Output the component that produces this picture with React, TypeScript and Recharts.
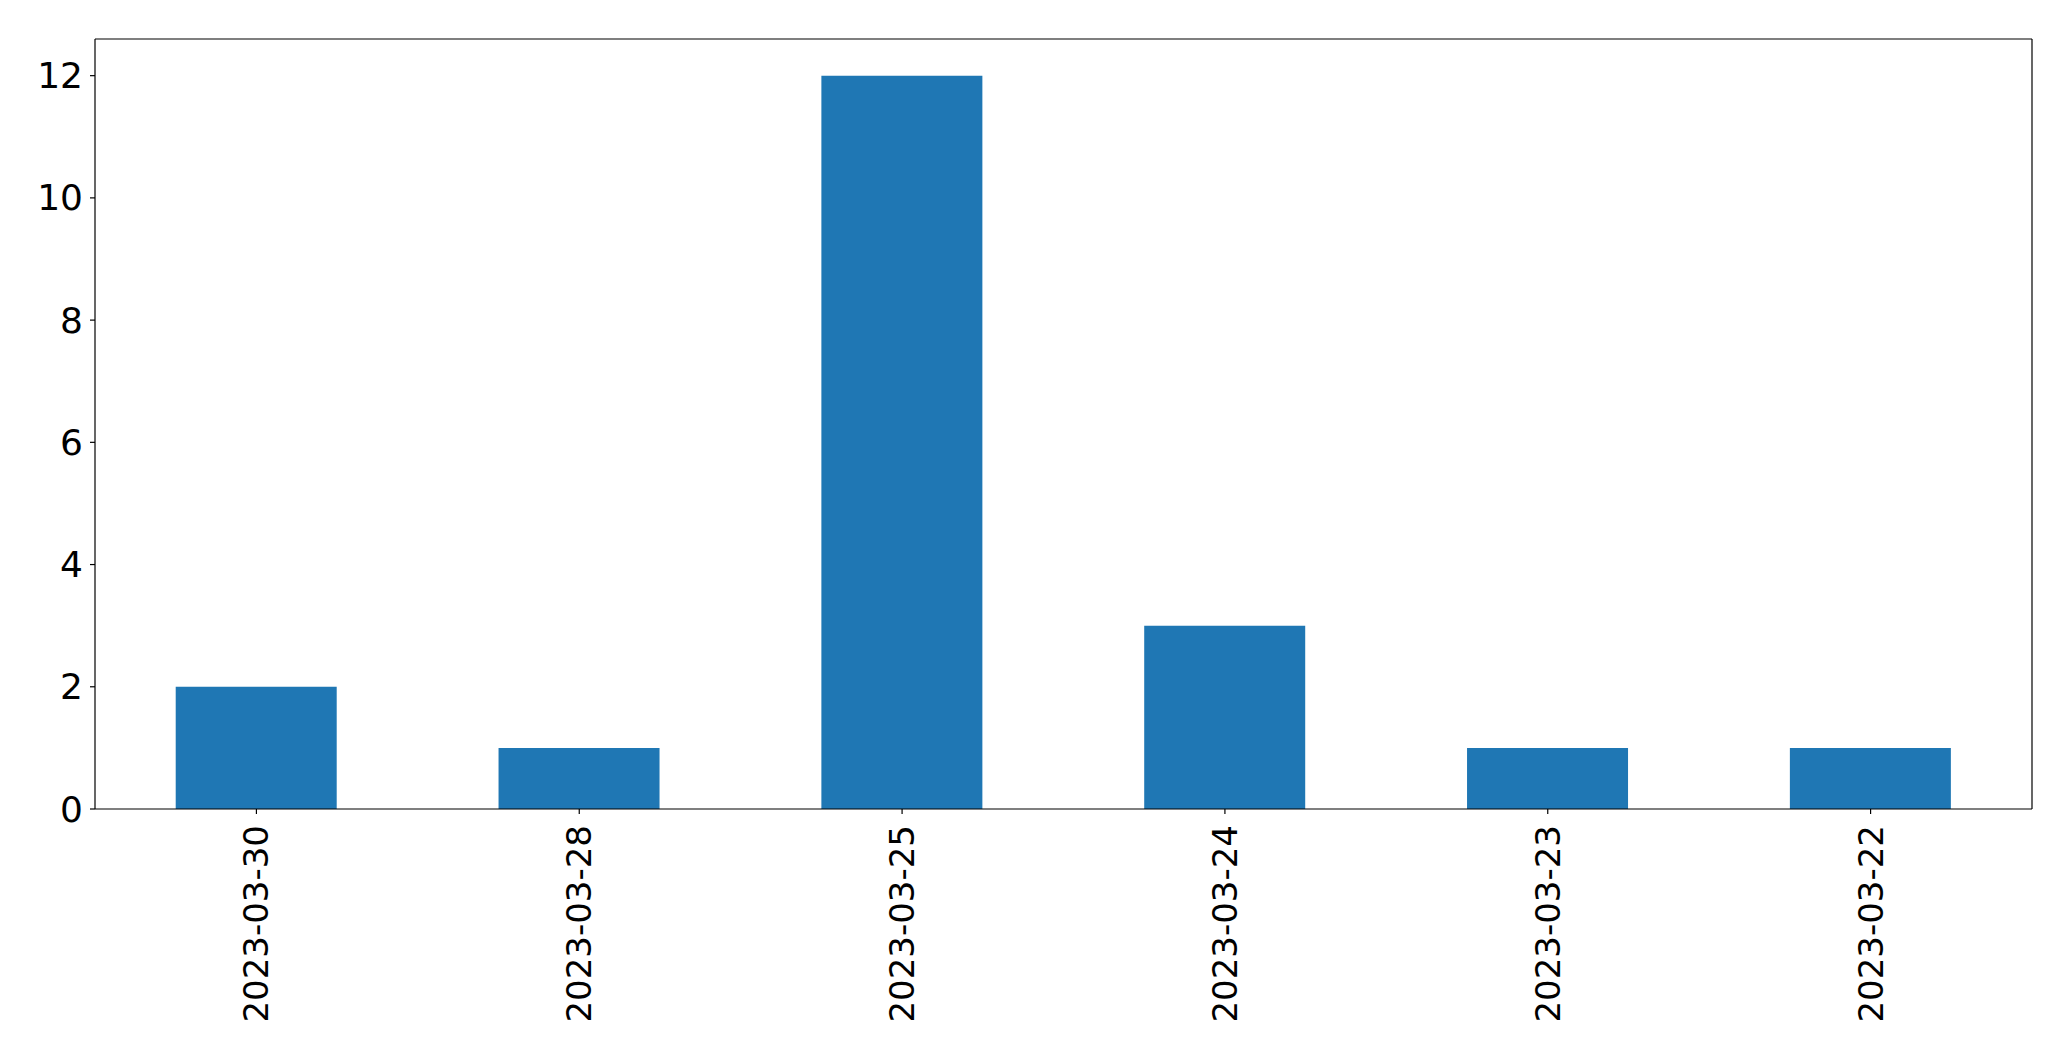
import { BarChart, Bar, XAxis, YAxis, CartesianGrid } from 'recharts';

const dates = ['2023-03-30', '2023-03-28', '2023-03-25', '2023-03-24', '2023-03-23', '2023-03-22'];
const counts = [2, 1, 12, 3, 1, 1];
const yTicks = [0, 2, 4, 6, 8, 10, 12];

const data = dates.map((d, i) => ({ date: d, count: counts[i] }));

const FONT = '"DejaVu Sans", sans-serif';

function DateTick(props: any) {
  const { x, y, payload } = props;
  return (
    <g transform={`translate(${x},${y})`}>
      <text
        x={0}
        y={0}
        transform="rotate(-90)"
        textAnchor="end"
        dominantBaseline="central"
        fontSize={34}
        fontFamily={FONT}
        fill="#000"
      >
        {payload.value}
      </text>
    </g>
  );
}

function CountTick(props: any) {
  const { x, y, payload } = props;
  return (
    <text
      x={x}
      y={y}
      textAnchor="end"
      dominantBaseline="central"
      fontSize={36}
      fontFamily={FONT}
      fill="#000"
    >
      {payload.value}
    </text>
  );
}

export default function App() {
  const axisLine = { stroke: '#000', strokeWidth: 1.2 };
  return (
    <div style={{ position: 'absolute', left: 0, top: 0, width: 2071, height: 1061, background: '#fff' }}>
      <BarChart
        width={2071}
        height={1061}
        data={data}
        margin={{ top: 39, right: 39, bottom: 0, left: 0 }}
        barCategoryGap="25%"
      >
        {/* top and right edges of the frame */}
        <CartesianGrid
          stroke="#000"
          strokeWidth={1.2}
          horizontalCoordinatesGenerator={({ offset }: any) => [offset.top]}
          verticalCoordinatesGenerator={({ offset }: any) => [offset.left + offset.width]}
        />
        <XAxis
          dataKey="date"
          height={252}
          interval={0}
          axisLine={axisLine}
          tickLine={axisLine}
          tickSize={5}
          tickMargin={11}
          tick={<DateTick />}
        />
        <YAxis
          width={95}
          domain={[0, 12.6]}
          ticks={yTicks}
          interval={0}
          axisLine={axisLine}
          tickLine={axisLine}
          tickSize={5}
          tickMargin={7}
          tick={<CountTick />}
        />
        <Bar dataKey="count" fill="#1f77b4" isAnimationActive={false} />
      </BarChart>
    </div>
  );
}
